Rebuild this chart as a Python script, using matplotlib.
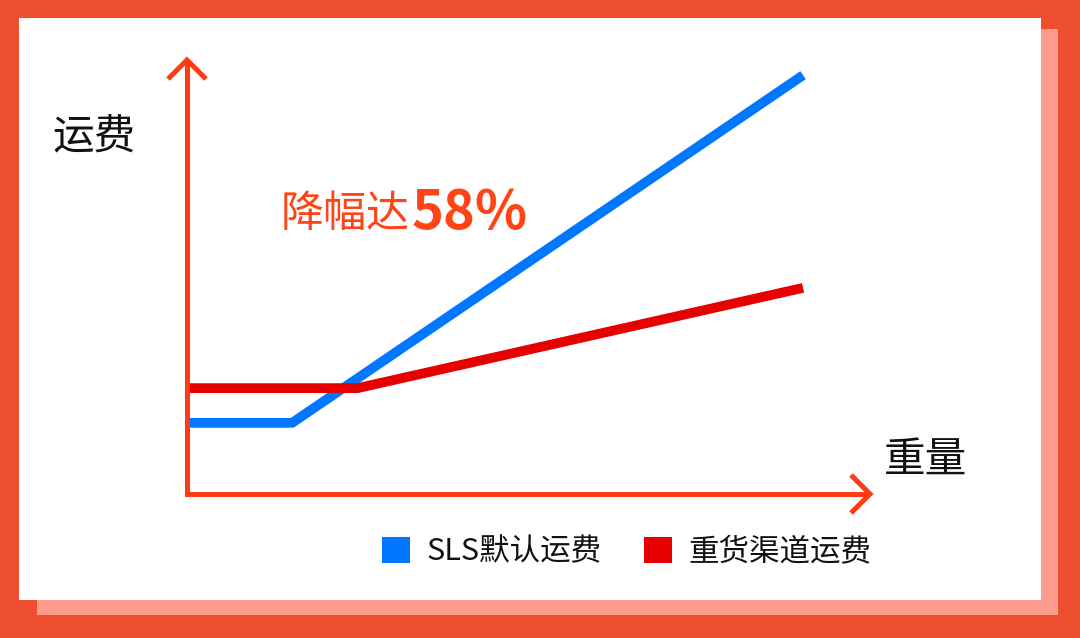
import matplotlib
matplotlib.use("Agg")
import matplotlib.pyplot as plt
from matplotlib.patches import Rectangle, Patch

plt.rcParams['font.family'] = ['Noto Sans CJK SC', 'DejaVu Sans']

# ---- data (chart units: weight 0..100, cost 0..100) ----
series_names = ["SLS默认运费", "重货渠道运费"]
sls_weight = [0, 15.4, 90.2]
sls_cost = [16.4, 16.4, 96.5]
heavy_weight = [0, 25.0, 90.2]
heavy_cost = [24.4, 24.4, 47.5]
y_label = "运费"
x_label = "重量"
note_text = "降幅达"
note_value = "58%"

BLUE = "#0077FF"
RED = "#E60000"
AXIS = "#FF3B14"
FRAME = "#EE4F2F"
SHADOW = "#FF9A8E"

W, H = 1080, 638
fig = plt.figure(figsize=(W / 100, H / 100), dpi=100)
fig.patch.set_facecolor(FRAME)

# background overlay (pixel coords)
bg = fig.add_axes([0, 0, 1, 1], zorder=0)
bg.set_xlim(0, W); bg.set_ylim(H, 0); bg.axis("off")
bg.add_patch(Rectangle((37, 29), 1058 - 37, 615 - 29, facecolor=SHADOW, edgecolor="none"))
bg.add_patch(Rectangle((19, 18), 1041 - 19, 600 - 18, facecolor="white", edgecolor="none"))

# data axes: origin at pixel (187, 494), extends to (870, 60)
x0, y0, x1, y1 = 187, 494, 870, 60
ax = fig.add_axes([x0 / W, (H - y0) / H, (x1 - x0) / W, (y0 - y1) / H], zorder=1)
ax.set_xlim(0, 100); ax.set_ylim(0, 100)
ax.axis("off"); ax.patch.set_alpha(0)
ax.plot(sls_weight, sls_cost, color=BLUE, lw=7, solid_capstyle="butt",
        solid_joinstyle="miter", clip_on=False)
ax.plot(heavy_weight, heavy_cost, color=RED, lw=7, solid_capstyle="butt",
        solid_joinstyle="miter", clip_on=False)

# foreground overlay: axis arrows & text
fg = fig.add_axes([0, 0, 1, 1], zorder=2)
fg.set_xlim(0, W); fg.set_ylim(H, 0); fg.axis("off"); fg.patch.set_alpha(0)
lw_axis = 3.6
fg.plot([x0, x0, x1], [y1, y0, y0], color=AXIS, lw=lw_axis,
        solid_joinstyle="miter", solid_capstyle="butt")
a = 19
fg.plot([x0 - a, x0, x0 + a], [y1 + a, y1, y1 + a], color=AXIS, lw=lw_axis,
        solid_joinstyle="miter", solid_capstyle="butt")
fg.plot([x1 - a, x1, x1 - a], [y0 - a, y0, y0 + a], color=AXIS, lw=lw_axis,
        solid_joinstyle="miter", solid_capstyle="butt")

fg.text(52, 137, y_label, fontsize=30, color="#111111", ha="left", va="center")
fg.text(884, 460, x_label, fontsize=30, color="#111111", ha="left", va="center")
fg.text(281, 215, note_text, fontsize=31, color="#FF4416", ha="left", va="center")
fg.text(412, 213, note_value, fontsize=39, fontweight="bold", color="#FF4416",
        ha="left", va="center")

handles = [Patch(facecolor=BLUE, edgecolor="none"), Patch(facecolor=RED, edgecolor="none")]
fig.legend(handles, series_names, loc="center", bbox_to_anchor=(627 / W, (H - 552) / H),
           ncol=2, frameon=False, fontsize=22, handlelength=0.9, handleheight=0.9,
           handletextpad=0.55, columnspacing=1.4, borderpad=0, labelcolor="#111111")

fig.savefig("out.png", dpi=100, facecolor=fig.get_facecolor())
